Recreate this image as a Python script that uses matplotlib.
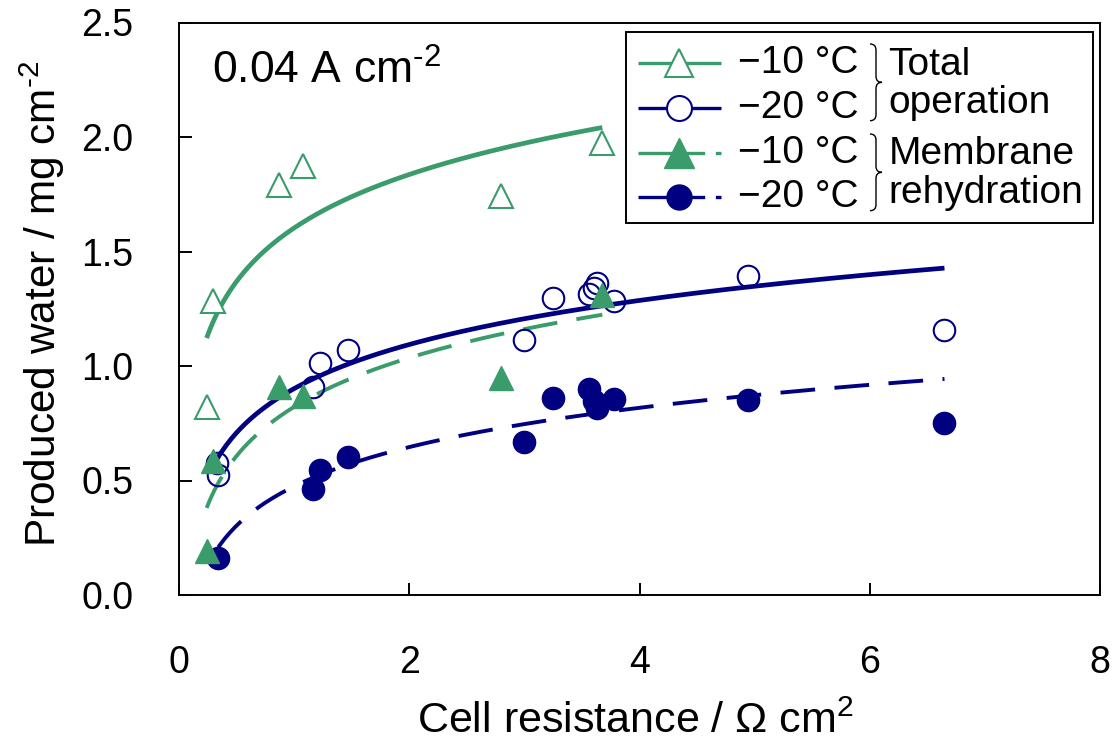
import numpy as np
import matplotlib
matplotlib.use("Agg")
import matplotlib.pyplot as plt
from matplotlib.lines import Line2D
from matplotlib.patches import Rectangle, PathPatch
from matplotlib.path import Path
from matplotlib.transforms import Affine2D

# ---------------- data ----------------
x_m10 = [0.24, 0.295, 0.87, 1.075, 2.795, 3.677]
y_m10_total = [0.823, 1.282, 1.792, 1.875, 1.741, 1.974]
y_m10_membrane = [0.191, 0.583, 0.910, 0.868, 0.947, 1.311]

x_m20_total = [0.327, 0.341, 1.165, 1.223, 1.468, 3.0, 3.252, 3.56, 3.605, 3.635, 3.781, 4.941, 6.649]
y_m20_total = [0.578, 0.524, 0.908, 1.013, 1.071, 1.113, 1.298, 1.313, 1.340, 1.361, 1.282, 1.394, 1.157]

x_m20_membrane = [0.341, 1.165, 1.223, 1.468, 3.0, 3.252, 3.56, 3.605, 3.635, 3.781, 4.941, 6.649]
y_m20_membrane = [0.160, 0.462, 0.546, 0.602, 0.667, 0.862, 0.899, 0.845, 0.816, 0.857, 0.852, 0.750]

x_ticks = [0, 2, 4, 6, 8]
y_ticks = [0.0, 0.5, 1.0, 1.5, 2.0, 2.5]
legend_temps = ["\u221210 \u00b0C", "\u221220 \u00b0C", "\u221210 \u00b0C", "\u221220 \u00b0C"]
group_labels = [["Total", "operation"], ["Membrane", "rehydration"]]
annotation = "0.04 A cm$^{\\text{-2}}$"

GREEN = "#3a9b6b"
NAVY = "#000080"

plt.rcParams["font.family"] = ["Liberation Sans", "DejaVu Sans"]
plt.rcParams["mathtext.fontset"] = "custom"
plt.rcParams["mathtext.rm"] = "Liberation Sans"
plt.rcParams["mathtext.it"] = "Liberation Sans:italic"
plt.rcParams["mathtext.bf"] = "Liberation Sans:bold"
plt.rcParams["lines.scale_dashes"] = False

W, H = 1119, 747
fig = plt.figure(figsize=(W / 100, H / 100), dpi=100)
ax = fig.add_axes([179 / W, (H - 595) / H, 921 / W, (595 - 22.5) / H])
pix = Affine2D().scale(1 / W, -1 / H).translate(0, 1) + fig.transFigure


def log_fit(x, y):
    x = np.asarray(x, float)
    y = np.asarray(y, float)
    b, a = np.polyfit(np.log(x), y, 1)
    xs = np.linspace(x.min(), x.max(), 300)
    return xs, a + b * np.log(xs)


DASH = (0, (25, 14))

# fit lines
xs, ys = log_fit(x_m10, y_m10_total)
ax.plot(xs, ys, color=GREEN, lw=3.4, zorder=2, solid_capstyle="butt")
xs, ys = log_fit(x_m20_total, y_m20_total)
ax.plot(xs, ys, color=NAVY, lw=3.4, zorder=2, solid_capstyle="butt")
xs, ys = log_fit(x_m10, y_m10_membrane)
ax.plot(xs, ys, color=GREEN, lw=2.8, ls=DASH, zorder=2, dash_capstyle="butt")
xs, ys = log_fit(x_m20_membrane, y_m20_membrane)
ax.plot(xs, ys, color=NAVY, lw=2.8, ls=DASH, zorder=2, dash_capstyle="butt")

# markers
ax.plot(x_m10, y_m10_total, ls="none", marker="^", ms=17.5, mfc="white",
        mec=GREEN, mew=1.5, zorder=3)
ax.plot(x_m20_total, y_m20_total, ls="none", marker="o", ms=15.5, mfc="none",
        mec=NAVY, mew=1.5, zorder=3)
ax.plot(x_m20_membrane, y_m20_membrane, ls="none", marker="o", ms=16, mfc=NAVY,
        mec=NAVY, mew=1, zorder=4)
ax.plot(x_m10, y_m10_membrane, ls="none", marker="^", ms=17.5, mfc=GREEN,
        mec=GREEN, mew=1, zorder=5)

# axes formatting
ax.set_xlim(0, 8)
ax.set_ylim(0, 2.5)
ax.set_xticks(x_ticks)
ax.set_xticklabels([str(t) for t in x_ticks])
ax.set_yticks(y_ticks)
ax.set_yticklabels([f"{t:.1f}" for t in y_ticks])
ax.tick_params(axis="x", direction="in", length=9, width=1.4, labelsize=27, pad=36,
               top=False)
ax.tick_params(axis="y", direction="in", length=9, width=1.4, labelsize=27, pad=33,
               right=False)
for s in ax.spines.values():
    s.set_linewidth(1.4)

ax.set_xlabel("Cell resistance / \u03a9 cm$^{\\mathregular{2}}$", fontsize=31,
              va="baseline")
ax.xaxis.set_label_coords((635 - 179) / 921, -(733 - 595) / (595 - 22.5))
ax.set_ylabel("Produced water / mg cm$^{\\text{-2}}$", fontsize=30.5,
              va="baseline")
ax.yaxis.set_label_coords(-(179 - 56) / 921, (595 - 304) / (595 - 22.5))

fig.text(212, 83.3, annotation, transform=pix, fontsize=32, ha="left", va="baseline")

# ---------------- legend (drawn manually) ----------------
fig.add_artist(Rectangle((626, 31.7), 1093 - 626, 222.7 - 31.7, transform=pix,
                         facecolor="white", edgecolor="black", lw=1.4, zorder=10))

rows_y = [63.3, 108.3, 153.3, 196.7]
hx0, hx1 = 637.7, 721.0
hxm = 0.5 * (hx0 + hx1)
handle_styles = [
    dict(color=GREEN, marker="^", ms=20, mfc="white", mec=GREEN, mew=1.5, ls="-"),
    dict(color=NAVY, marker="o", ms=18, mfc="white", mec=NAVY, mew=1.5, ls="-"),
    dict(color=GREEN, marker="^", ms=21, mfc=GREEN, mec=GREEN, mew=1, ls=(0, (48, 7.7))),
    dict(color=NAVY, marker="o", ms=18, mfc=NAVY, mec=NAVY, mew=1, ls=(0, (48, 7.7))),
]
for y, st, lab in zip(rows_y, handle_styles, legend_temps):
    st = dict(st)
    mk = st.pop("marker"); ms = st.pop("ms"); mfc = st.pop("mfc")
    mec = st.pop("mec"); mew = st.pop("mew"); ls = st.pop("ls")
    fig.add_artist(Line2D([hx0, hx1], [y, y], transform=pix, color=st["color"],
                          lw=2.4, ls=ls, zorder=11, solid_capstyle="butt",
                          dash_capstyle="butt"))
    fig.add_artist(Line2D([hxm], [y], transform=pix, ls="none", marker=mk, ms=ms,
                          mfc=mfc, mec=mec, mew=mew, zorder=12))
    fig.text(737.7, y + 10, lab, transform=pix, fontsize=28, ha="left",
             va="baseline", zorder=12)


def brace(x0, xm, xt, ytop, ybot):
    ymid = 0.5 * (ytop + ybot)
    r = 6
    verts = [
        (x0, ytop), (xm, ytop), (xm, ytop + r),
        (xm, ymid - r),
        (xm, ymid), (xt, ymid),
        (xm, ymid), (xm, ymid + r),
        (xm, ybot - r),
        (xm, ybot), (x0, ybot),
    ]
    codes = [Path.MOVETO, Path.CURVE3, Path.CURVE3, Path.LINETO,
             Path.CURVE3, Path.CURVE3, Path.CURVE3, Path.CURVE3,
             Path.LINETO, Path.CURVE3, Path.CURVE3]
    fig.add_artist(PathPatch(Path(verts, codes), transform=pix, facecolor="none",
                             edgecolor="black", lw=1.0, zorder=12))


brace(870, 876, 882, 44, 120.7)
brace(870, 876, 882, 134, 210.7)

group_baselines = [[75, 113.3], [164, 203.3]]
for labs, bls in zip(group_labels, group_baselines):
    for lab, bl in zip(labs, bls):
        fig.text(888.3, bl, lab, transform=pix, fontsize=28, ha="left",
                 va="baseline", zorder=12)

fig.savefig("out.png", dpi=100)
